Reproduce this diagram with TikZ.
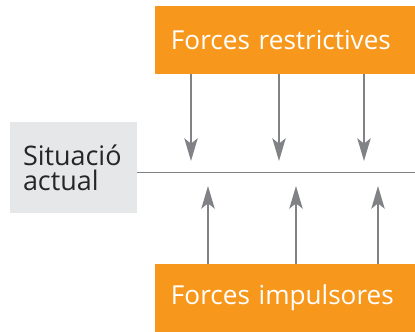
\documentclass[tikz,border=0pt]{standalone}
\usepackage{fontspec}
\setmainfont{Open Sans}
\usetikzlibrary{arrows.meta}
\definecolor{forceorange}{HTML}{F7981D}
\definecolor{statusgray}{HTML}{E6E7E8}
\definecolor{arrowgray}{HTML}{808285}
\begin{document}
\begin{tikzpicture}[
	x=0.75pt,
	y=-0.75pt,
	forcebox/.style={
		fill = forceorange,
		text = white,
		font = \fontsize{19.6}{22}\selectfont,
		minimum height = 51pt,
		inner xsep = 12pt,
		text width = 171pt,
		align = left
	},
	statusbox/.style={
		fill = statusgray,
		text = black!85,
		font = \fontsize{20.2}{19}\selectfont,
		minimum width = 95.25pt,
		minimum height = 68.25pt,
		inner xsep = 9.75pt,
		text width = 75.75pt,
		align = left
	},
	force/.style={
		draw = arrowgray,
		line width = 1.5pt,
		-{Stealth[length=17pt, width=10pt, inset=4pt]}
	}
]
\useasboundingbox (0,0) rectangle (415,332);

\node[forcebox] (restr) at (285,40) {Forces restrictives};
\node[forcebox] (impuls) at (285,298) {Forces impulsores};
\node[statusbox] (actual) at (73.5,167.5) {Situació\\actual};

\coordinate (lineend) at (415,172.5);
\draw[arrowgray, line width=1.1pt] (actual.east |- lineend) -- (lineend);

\foreach \x [count=\i] in {191,279,364}
	\coordinate (down\i) at (\x,161);
\foreach \x [count=\i] in {208,296,378}
	\coordinate (up\i) at (\x,186);

\foreach \i in {1,2,3} {
	\draw[force] (restr.south -| down\i) -- (down\i);
	\draw[force] (impuls.north -| up\i) -- (up\i);
}

\end{tikzpicture}
\end{document}
